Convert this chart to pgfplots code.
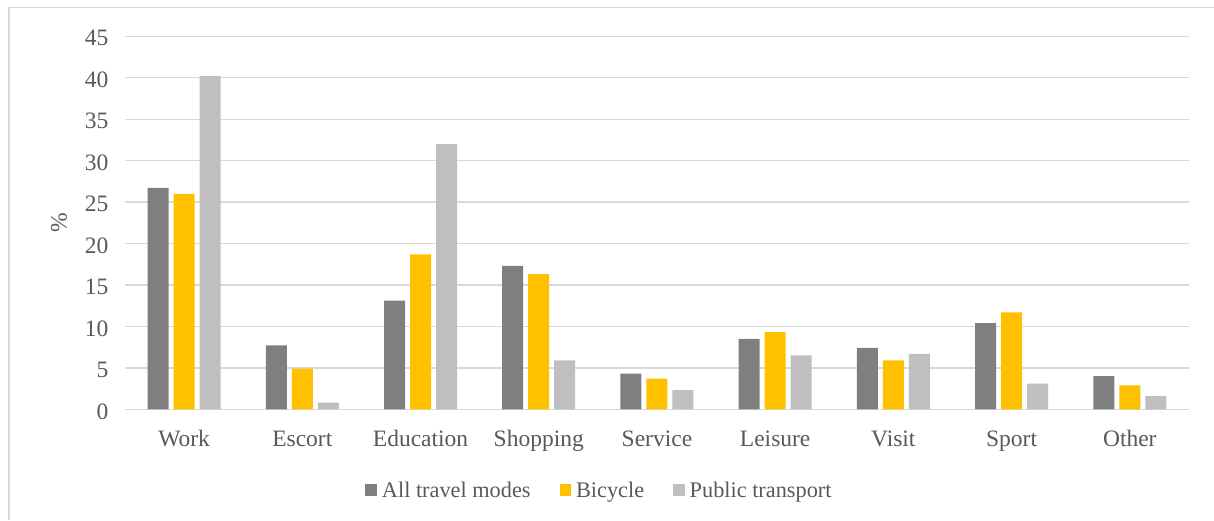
\documentclass[border=0pt]{standalone}
\usepackage{pgfplots}
\pgfplotsset{compat=1.18}
\usepackage{fontspec}
\setmainfont{Liberation Serif}
\definecolor{allmodes}{HTML}{7F7F7F}
\definecolor{bike}{HTML}{FFC000}
\definecolor{pubtr}{HTML}{BFBFBF}
\definecolor{gridc}{HTML}{D9D9D9}
\definecolor{txt}{HTML}{595959}
\begin{document}
\begin{tikzpicture}[x=1pt,y=1pt]
\useasboundingbox (0,0) rectangle (1214,520);
% chart area border (only left and top visible)
\draw[gridc, line width=1.2pt] (9,0) -- (9,512.7) -- (1214,512.7);
\node[txt, rotate=90, font=\fontsize{23.5}{27}\selectfont] at (59,297) {\%};
\begin{axis}[
    at={(125pt,110.7pt)}, anchor=south west,
    scale only axis,
    width=1064pt, height=373pt,
    ybar=5pt, bar width=21pt,
    xmin=-0.5, xmax=8.5,
    ymin=0, ymax=45,
    enlargelimits=false,
    xtick={0,...,8},
    xticklabels={Work,Escort,Education,Shopping,Service,Leisure,Visit,Sport,Other},
    ytick={0,5,...,45},
    major tick length=0pt,
    axis line style={draw=none},
    ymajorgrids=true,
    grid style={gridc, line width=1.3pt},
    font=\fontsize{23.5}{27}\selectfont,
    tick label style={txt},
    /pgf/number format/assume math mode=true,
    xticklabel style={anchor=base, yshift=-37.4pt},
    yticklabel style={xshift=-13.2pt, yshift=-2pt},
    legend columns=3,
    legend style={draw=none, fill=none, text=txt,
        font=\fontsize{22.3}{26}\selectfont,
        at={(0.446,-0.2164)}, anchor=center,
        /tikz/every odd column/.append style={column sep=3pt},
        /tikz/every even column/.append style={column sep=27pt}},
    legend image code/.code={\fill[#1] (0pt,-5.5pt) rectangle (11.5pt,6pt);},
    legend cell align=left,
]
\addplot[fill=allmodes, draw=none] coordinates {
    (0,26.7)(1,7.7)(2,13.1)(3,17.3)(4,4.3)(5,8.5)(6,7.4)(7,10.4)(8,4.0)};
\addplot[fill=bike, draw=none] coordinates {
    (0,26.0)(1,4.9)(2,18.7)(3,16.3)(4,3.7)(5,9.3)(6,5.9)(7,11.7)(8,2.9)};
\addplot[fill=pubtr, draw=none] coordinates {
    (0,40.2)(1,0.8)(2,32.0)(3,5.9)(4,2.3)(5,6.5)(6,6.7)(7,3.1)(8,1.6)};
\legend{All travel modes, Bicycle, Public transport}
\end{axis}
\end{tikzpicture}
\end{document}
